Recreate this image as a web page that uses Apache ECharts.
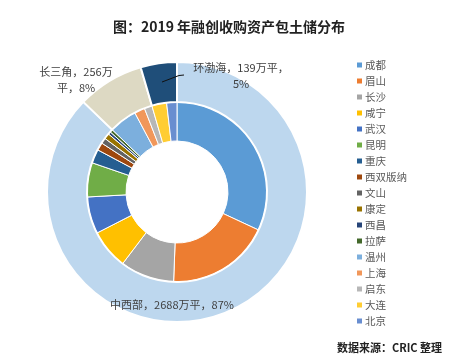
<!DOCTYPE html>
<html>
<head>
<meta charset="utf-8">
<script src="https://cdn.jsdelivr.net/npm/echarts@6/dist/echarts.min.js"></script>
<style>
  html, body { margin: 0; padding: 0; background: #fff; }
  #chart { width: 458px; height: 364px; }
</style>
</head>
<body>
<div id="chart"></div>
<script>
// inner ring: cities (万平)
const cityNames = ['成都', '眉山', '长沙', '咸宁', '武汉', '昆明', '重庆', '西双版纳', '文山', '康定', '西昌', '拉萨', '温州', '上海', '启东', '大连', '北京'];
const cityValues = [985, 575, 300, 220, 205, 190, 77, 43, 31, 31, 15, 16, 155, 58, 43, 82, 57];
const cityColors = ['#5B9BD5', '#ED7D31', '#A5A5A5', '#FFC000', '#4472C4', '#70AD47', '#255E91', '#9E480E', '#636363', '#997300', '#264478', '#43682B', '#7CAFDD', '#F1975A', '#B7B7B7', '#FFCD33', '#698ED0'];

// outer ring: regions
const regionNames = ['中西部', '长三角', '环渤海'];
const regionValues = [2688, 256, 139];
const regionColors = ['#BDD7EE', '#DDD9C3', '#1F4E79'];
const regionWrapAt = [0, 8, 10];

const chart = echarts.init(document.getElementById('chart'), null, { renderer: 'canvas' });

const font = '"Noto Sans CJK SC", "Microsoft YaHei", sans-serif';
// where the region labels sit (the original placed them by hand)
const labelSpots = [
  { x: 172, y: 305 },
  { x: 76, y: 80 },
  { x: 241, y: 76 }
];

chart.setOption({
  backgroundColor: '#fff',
  animation: false,
  title: [
    {
      text: '图：2019 年融创收购资产包土储分布',
      left: 'center',
      top: 15,
      textStyle: { fontFamily: font, fontSize: 14, fontWeight: 'bold', color: '#222' }
    },
    {
      text: '数据来源：CRIC 整理',
      right: 11,
      top: 337,
      textStyle: { fontFamily: font, fontSize: 11, fontWeight: 'bold', color: '#222' }
    }
  ],
  legend: {
    orient: 'vertical',
    left: 350,
    top: 54,
    itemWidth: 7,
    itemHeight: 7,
    itemGap: 4,
    icon: 'rect',
    data: cityNames,
    textStyle: { fontFamily: font, fontSize: 10.5, lineHeight: 12, color: '#595959', padding: [0, 0, 0, -3] }
  },
  // leader line of the 环渤海 label
  graphic: [
    {
      type: 'polyline',
      z: 100,
      silent: true,
      shape: { points: [[162, 82], [179, 75.5], [184, 75]] },
      style: { stroke: '#111', lineWidth: 1, fill: null }
    }
  ],
  series: [
    {
      name: '城市',
      type: 'pie',
      center: [177, 192],
      radius: [51, 90],
      startAngle: 90,
      clockwise: true,
      avoidLabelOverlap: false,
      label: { show: false },
      labelLine: { show: false },
      itemStyle: { borderColor: '#fff', borderWidth: 1 },
      emphasis: { disabled: true },
      data: cityNames.map((n, i) => ({ name: n, value: cityValues[i], itemStyle: { color: cityColors[i] } }))
    },
    {
      name: '区域',
      type: 'pie',
      center: [177, 192],
      radius: [90, 130],
      startAngle: 90,
      clockwise: true,
      avoidLabelOverlap: false,
      itemStyle: { borderColor: '#fff', borderWidth: 2 },
      emphasis: { disabled: true },
      label: {
        show: true,
        position: 'outside',
        fontFamily: font,
        fontSize: 11,
        lineHeight: 16,
        color: '#404040',
        align: 'center',
        formatter: (p) => {
          const s = `${p.name}，${p.value}万平，${Math.round(p.percent)}%`;
          const k = regionWrapAt[p.dataIndex];
          return k ? s.slice(0, k) + '\n' + s.slice(k) : s;
        }
      },
      labelLine: { show: false },
      labelLayout: (p) => {
        const spot = labelSpots[p.dataIndex];
        return { x: spot.x, y: spot.y, align: 'center', verticalAlign: 'middle' };
      },
      data: regionNames.map((n, i) => ({
        name: n,
        value: regionValues[i],
        itemStyle: { color: regionColors[i] }
      }))
    }
  ]
});
</script>
</body>
</html>
